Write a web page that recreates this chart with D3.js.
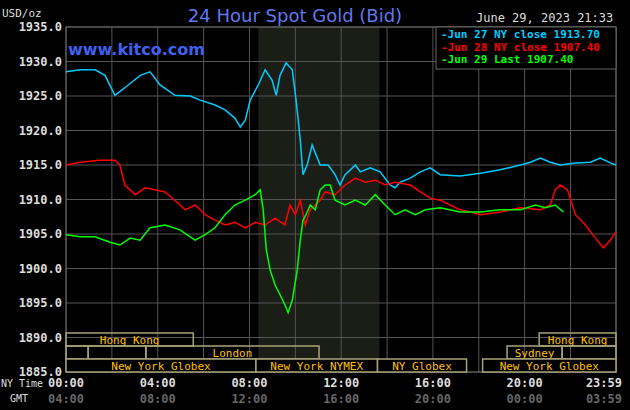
<!DOCTYPE html><html><head><script src="https://cdn.jsdelivr.net/npm/d3@7"></script>
<style>body{margin:0;background:#000}</style></head><body><svg id="c" width="630" height="410"></svg>
<script>
const blueMin=[0,37,76,102,128,154,194,220,246,285,325,351,390,416,442,456,469,482,503,521,539,550,560,576,592,602,613,620,631,644,654,665,686,704,717,730,744,757,770,796,822,848,861,874,901,927,953,979,1031,1084,1136,1189,1215,1241,1267,1293,1333,1372,1398,1424,1439];
const bluePx=[1928.5,1928.8,1928.8,1928.0,1925.1,1926.2,1928.0,1928.5,1926.6,1925.1,1925.0,1924.4,1923.7,1923.0,1921.8,1920.5,1921.5,1924.4,1926.6,1928.8,1927.3,1925.1,1928.0,1929.8,1928.8,1924.4,1918.6,1913.6,1915.0,1917.9,1916.5,1915.0,1915.0,1913.6,1912.1,1913.6,1914.3,1915.0,1914.0,1914.6,1914.0,1912.1,1911.7,1912.5,1913.1,1914.0,1914.6,1913.6,1913.4,1913.8,1914.3,1915.0,1915.4,1916.0,1915.4,1915.0,1915.3,1915.4,1916.0,1915.3,1915.0];
const redMin=[0,37,89,128,141,154,181,207,233,259,285,312,338,364,390,416,442,469,495,521,547,573,586,600,613,626,639,652,665,678,704,730,757,783,809,835,861,901,927,953,979,1005,1031,1058,1084,1136,1189,1241,1267,1280,1293,1312,1333,1359,1385,1406,1424,1439];
const redPx=[1915.0,1915.4,1915.7,1915.7,1915.0,1912.1,1910.7,1911.7,1911.4,1911.1,1909.9,1908.5,1909.2,1907.8,1907.0,1906.3,1906.7,1905.9,1906.7,1906.3,1907.3,1906.3,1909.2,1907.8,1909.9,1906.3,1908.5,1909.2,1909.9,1911.1,1910.7,1912.1,1913.1,1912.5,1912.8,1912.1,1912.5,1912.1,1911.1,1910.2,1909.9,1909.2,1908.5,1908.2,1907.8,1908.2,1908.8,1908.5,1909.2,1911.4,1912.1,1911.4,1907.8,1906.3,1904.4,1903.0,1904.1,1905.3];
const greenMin=[0,37,76,115,141,168,194,220,259,298,338,364,390,416,442,469,495,508,516,524,534,547,560,573,581,592,605,613,620,628,639,652,665,678,691,704,730,757,783,809,835,861,887,914,940,979,1031,1084,1136,1189,1228,1254,1280,1301];
const greenPx=[1904.9,1904.6,1904.6,1903.8,1903.4,1904.4,1904.1,1905.9,1906.3,1905.6,1904.1,1904.9,1905.9,1907.8,1909.2,1909.9,1910.7,1911.4,1908.5,1902.7,1899.8,1897.6,1896.2,1894.7,1893.6,1895.4,1899.8,1904.1,1907.0,1907.8,1909.2,1908.5,1911.4,1912.1,1912.1,1909.9,1909.2,1909.9,1909.2,1910.7,1909.2,1907.8,1908.5,1907.8,1908.5,1908.8,1908.2,1908.2,1908.5,1908.5,1909.2,1908.8,1909.2,1908.2];
const yTicks=[1885,1890,1895,1900,1905,1910,1915,1920,1925,1930,1935];
const nyLabels=["00:00","04:00","08:00","12:00","16:00","20:00","23:59"];
const gmtLabels=["04:00","08:00","12:00","16:00","20:00","00:00","03:59"];
const labelMin=[0,240,480,720,960,1200,1439];
const legend=["Jun 27 NY close 1913.70","Jun 28 NY close 1907.40","Jun 29 Last 1907.40"];
const sessions=[[0,0,333,"Hong Kong"],[0,1238,1439,"Hong Kong"],[1,0,58,""],[1,58,209,""],[1,209,662,"London"],[1,1154,1298,"Sydney"],[1,1298,1439,""],[2,0,497,"New York Globex"],[2,497,815,"New York NYMEX"],[2,815,1048,"NY Globex"],[2,1090,1439,"New York Globex"]];
const shade=[503,820];

const svg=d3.select("#c");
const L=66,R=616,T=27,B=372;
const x=d3.scaleLinear().domain([0,1439]).range([L,R]);
const y=d3.scaleLinear().domain([1885,1935]).range([B,T]);
const mono="DejaVu Sans Mono, monospace";
svg.append("rect").attr("width",630).attr("height",410).attr("fill","#000");
svg.append("rect").attr("x",x(shade[0])).attr("y",T).attr("width",x(shade[1])-x(shade[0])).attr("height",B-T).attr("fill","#1b1d17");
const g=svg.append("g");
d3.range(0,1441,120).forEach(m=>g.append("line").attr("x1",x(Math.min(m,1439))).attr("x2",x(Math.min(m,1439))).attr("y1",T).attr("y2",B).attr("stroke","#555"));
yTicks.forEach(v=>g.append("line").attr("x1",L).attr("x2",R).attr("y1",y(v)).attr("y2",y(v)).attr("stroke","#555"));
g.append("rect").attr("x",L).attr("y",T).attr("width",R-L).attr("height",B-T).attr("fill","none").attr("stroke","#666");
yTicks.forEach(v=>svg.append("text").attr("x",L-4).attr("y",y(v)+4).attr("text-anchor","end").attr("font-family",mono).attr("font-weight","bold").attr("font-size",12).attr("fill","#ddd").text(v.toFixed(1)));
svg.append("text").attr("x",2).attr("y",17).attr("font-family",mono).attr("font-size",11).attr("fill","#ddd").text("USD/oz");
const rowH=13;
sessions.forEach(s=>{const y0=B-(3-s[0])*rowH;
 svg.append("rect").attr("x",x(s[1])).attr("y",y0).attr("width",x(s[2])-x(s[1])).attr("height",rowH).attr("fill",s[0]==2?"#000":"none").attr("stroke","#a8a27a").attr("stroke-width",1.5);
 if(s[3])svg.append("text").attr("x",(x(s[1])+x(s[2]))/2).attr("y",y0+10.5).attr("text-anchor","middle").attr("font-family",mono).attr("font-size",11).attr("fill","#ffc000").text(s[3]);});
const line=d3.line().x(d=>x(d[0])).y(d=>y(d[1]));
[[blueMin,bluePx,"#00ccff"],[redMin,redPx,"#ff0000"],[greenMin,greenPx,"#00ff00"]].forEach(([m,p,c])=>svg.append("path").attr("d",line(d3.zip(m,p))).attr("fill","none").attr("stroke",c).attr("stroke-width",1.5));
labelMin.forEach((m,i)=>{const last=i==labelMin.length-1;const xx=last?622:x(m);const an=last?"end":"middle";
 svg.append("text").attr("x",xx).attr("y",387).attr("text-anchor",an).attr("font-family",mono).attr("font-weight","bold").attr("font-size",12).attr("fill","#ddd").text(nyLabels[i]);
 svg.append("text").attr("x",xx).attr("y",403).attr("text-anchor",an).attr("font-family",mono).attr("font-weight","bold").attr("font-size",12).attr("fill","#666").text(gmtLabels[i]);});
svg.append("text").attr("x",1).attr("y",387).attr("font-family",mono).attr("font-size",10).attr("fill","#ddd").text("NY Time");
svg.append("text").attr("x",10).attr("y",402).attr("font-family",mono).attr("font-size",10).attr("fill","#ddd").text("GMT");
svg.append("text").attr("x",295).attr("y",22).attr("text-anchor","middle").attr("font-family","DejaVu Sans, sans-serif").attr("font-size",18).attr("fill","#5f78ee").text("24 Hour Spot Gold (Bid)");
svg.append("text").attr("x",68).attr("y",55).attr("font-family","DejaVu Sans, sans-serif").attr("font-weight","bold").attr("font-size",16).attr("fill","#4060f0").text("www.kitco.com");
svg.append("text").attr("x",476).attr("y",22).attr("font-family",mono).attr("font-size",12).attr("fill","#ddd").text("June 29, 2023 21:33");
svg.append("rect").attr("x",436).attr("y",27).attr("width",180).attr("height",42).attr("fill","#000").attr("stroke","#666");
["#00ccff","#ff0000","#00ff00"].forEach((c,i)=>svg.append("text").attr("x",441).attr("y",38+i*12.7).attr("font-family",mono).attr("font-weight","bold").attr("font-size",11).attr("fill",c).text("-"+legend[i]));
</script></body></html>
